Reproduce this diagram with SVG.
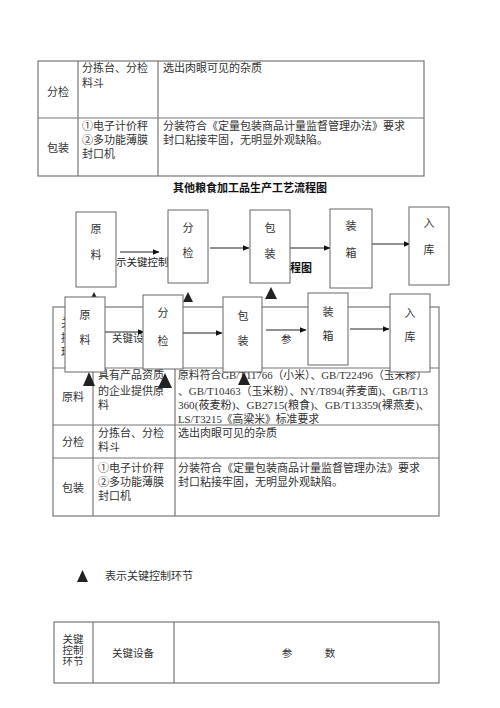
<svg xmlns="http://www.w3.org/2000/svg" width="500" height="708" viewBox="0 0 500 708">
<style>
.t{font-family:"Liberation Serif","Noto Sans CJK SC",serif;font-size:11px;fill:#333}
.c{text-anchor:middle}
.b{font-weight:bold;fill:#111}
.s{font-size:10.5px}
.grid{fill:none;stroke:#777;stroke-width:1.2}
.box{fill:#fff;stroke:#666;stroke-width:1}
.ln{stroke:#222;stroke-width:1;fill:none}
.tri{fill:#222}
</style>
<defs>
<marker id="ah" markerWidth="7" markerHeight="6" refX="6.5" refY="3" orient="auto" markerUnits="userSpaceOnUse">
<path d="M0,0 L7,3 L0,6 Z" fill="#111"/>
</marker>
<clipPath id="frag"><rect x="54" y="310" width="11" height="55"/></clipPath>
</defs>
<rect width="500" height="708" fill="#fff"/>

<!-- Top table -->
<g id="table-top">
<rect class="grid" x="38" y="61" width="386" height="115"/>
<path class="grid" d="M78,61V176M158,61V176M38,118H424"/>
<text class="t c" x="58" y="96">分检</text>
<text class="t" x="82" y="72">分拣台、分检</text>
<text class="t" x="82" y="87">料斗</text>
<text class="t" x="163" y="72">选出肉眼可见的杂质</text>
<text class="t c" x="58" y="152">包装</text>
<text class="t" x="82" y="130">①电子计价秤</text>
<text class="t" x="82" y="144">②多功能薄膜</text>
<text class="t" x="82" y="158">封口机</text>
<text class="t" x="163" y="130">分装符合《定量包装商品计量监督管理办法》要求</text>
<text class="t" x="163" y="144">封口粘接牢固，无明显外观缺陷。</text>
</g>
<text class="t c b" x="250" y="192">其他粮食加工品生产工艺流程图</text>

<!-- Table 2 -->
<g id="table-mid">
<rect class="grid" x="53" y="307" width="386" height="209"/>
<path class="grid" d="M93,307V516M175,307V516M53,368H439M53,425H439M53,458H439"/>
<g clip-path="url(#frag)">
<text class="t" x="61" y="327">关</text>
<text class="t" x="61" y="342">控</text>
<text class="t" x="61" y="356">环</text>
</g>
<text class="t s" x="112" y="342">关键设</text>
<text class="t s" x="281" y="343">参</text>
<text class="t c" x="73" y="401">原料</text>
<text class="t" x="98" y="379">具有产品资质</text>
<text class="t" x="98" y="395">的企业提供原</text>
<text class="t" x="98" y="409">料</text>
<text class="t" x="178" y="379" textLength="249" lengthAdjust="spacingAndGlyphs">原料符合GB/T11766（小米）、GB/T22496（玉米糁）</text>
<text class="t" x="178" y="395" textLength="250" lengthAdjust="spacingAndGlyphs">、GB/T10463（玉米粉）、NY/T894(荞麦面)、GB/T13</text>
<text class="t" x="178" y="409" textLength="252" lengthAdjust="spacingAndGlyphs">360(莜麦粉)、GB2715(粮食)、GB/T13359(裸燕麦)、</text>
<text class="t" x="178" y="423" textLength="141" lengthAdjust="spacingAndGlyphs">LS/T3215《高粱米》标准要求</text>
<text class="t c" x="73" y="446">分检</text>
<text class="t" x="98" y="437">分拣台、分检</text>
<text class="t" x="98" y="451">料斗</text>
<text class="t" x="178" y="437">选出肉眼可见的杂质</text>
<text class="t c" x="73" y="492">包装</text>
<text class="t" x="98" y="472">①电子计价秤</text>
<text class="t" x="98" y="486">②多功能薄膜</text>
<text class="t" x="98" y="500">封口机</text>
<text class="t" x="178" y="472">分装符合《定量包装商品计量监督管理办法》要求</text>
<text class="t" x="178" y="486">封口粘接牢固，无明显外观缺陷。</text>
</g>

<!-- stray overlapping texts -->
<text class="t s" x="116" y="266" style="fill:#222">示关键控制</text>
<text class="t b" x="290" y="272">程图</text>

<!-- connectors -->
<g id="connectors">
<path class="ln" marker-end="url(#ah)" d="M120,252H159"/>
<path class="ln" marker-end="url(#ah)" d="M210,248H249"/>
<path class="ln" marker-end="url(#ah)" d="M290,248H330"/>
<path class="ln" marker-end="url(#ah)" d="M372,244H410"/>
<path class="ln" marker-end="url(#ah)" d="M105,332H144"/>
<path class="ln" marker-end="url(#ah)" d="M183,333H222"/>
<path class="ln" marker-end="url(#ah)" d="M266,330H306"/>
<path class="ln" marker-end="url(#ah)" d="M350,329H389"/>
</g>

<!-- row 1 -->
<g id="r1-yuanliao"><rect class="box" x="76" y="212" width="40" height="75"/><text class="t c" x="96" y="233">原</text><text class="t c" x="96" y="259">料</text></g>
<g id="r1-fenjian"><rect class="box" x="168" y="210" width="40" height="73"/><text class="t c" x="188" y="232">分</text><text class="t c" x="188" y="257">检</text></g>
<g id="r1-baozhuang"><rect class="box" x="250" y="210" width="40" height="73"/><text class="t c" x="270" y="232">包</text><text class="t c" x="270" y="258">装</text></g>
<g id="r1-zhuangxiang"><rect class="box" x="330" y="209" width="42" height="79"/><text class="t c" x="351" y="230">装</text><text class="t c" x="351" y="257">箱</text></g>
<g id="r1-ruku"><rect class="box" x="409" y="207" width="40" height="78"/><text class="t c" x="429" y="227">入</text><text class="t c" x="429" y="254">库</text></g>

<g id="marks1">
<path class="tri" d="M94,292L89,302H99Z"/>
<path class="tri" d="M188,292L183,302H193Z"/>
<path class="tri" d="M271,287L265,299H277Z"/>
</g>

<!-- row 2 -->
<g id="r2-yuanliao"><rect class="box" x="65" y="297" width="40" height="75"/><text class="t c" x="85" y="319">原</text><text class="t c" x="85" y="344">料</text></g>
<g id="r2-fenjian"><rect class="box" x="143" y="295" width="40" height="74"/><text class="t c" x="163" y="317">分</text><text class="t c" x="163" y="345">检</text></g>
<g id="r2-baozhuang"><rect class="box" x="223" y="297" width="39" height="75"/><text class="t c" x="243" y="320">包</text><text class="t c" x="243" y="345">装</text></g>
<g id="r2-zhuangxiang"><rect class="box" x="308" y="293" width="40" height="72"/><text class="t c" x="328" y="316">装</text><text class="t c" x="328" y="340">箱</text></g>
<g id="r2-ruku"><rect class="box" x="390" y="294" width="40" height="78"/><text class="t c" x="410" y="317">入</text><text class="t c" x="410" y="341">库</text></g>

<g id="marks2">
<path class="tri" d="M89,372L83,386H95Z"/>
<path class="tri" d="M165,373L158,388H172Z"/>
<path class="tri" d="M244,372L238,385H250Z"/>
</g>

<!-- legend -->
<g id="legend">
<path class="tri" d="M82.5,570L77,582H88Z"/>
<text class="t" x="105" y="580">表示关键控制环节</text>
</g>

<!-- bottom table -->
<g id="table-bottom">
<rect class="grid" x="54" y="622" width="385" height="61"/>
<path class="grid" d="M93,622V683M174,622V683"/>
<text class="t c s" x="73" y="643">关键</text>
<text class="t c s" x="73" y="654">控制</text>
<text class="t c s" x="73" y="665">环节</text>
<text class="t c s" x="133" y="657">关键设备</text>
<text class="t c s" x="287" y="657">参</text>
<text class="t c s" x="330" y="657">数</text>
</g>
</svg>
